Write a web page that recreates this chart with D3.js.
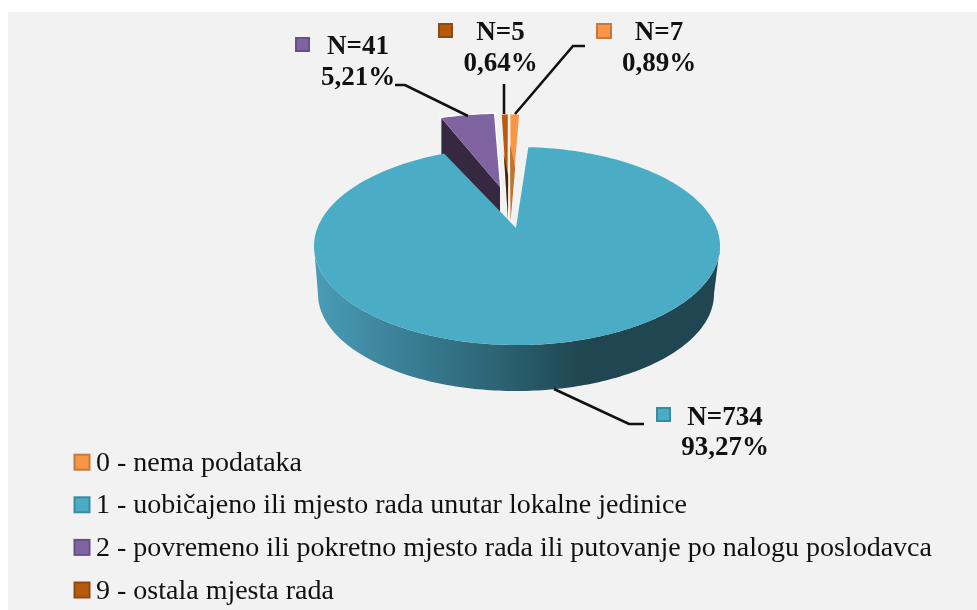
<!DOCTYPE html>
<html><head><meta charset="utf-8">
<script src="https://cdnjs.cloudflare.com/ajax/libs/d3/7.8.5/d3.min.js"></script>
<style>html,body{margin:0;padding:0;background:#fff}svg{display:block;filter:blur(0.45px)}text{font-family:"Liberation Serif",serif;fill:#111}</style>
</head><body><div id="c"></div>
<script>
const categories = ["0 - nema podataka","1 - uobičajeno ili mjesto rada unutar lokalne jedinice","2 - povremeno ili pokretno mjesto rada ili putovanje po nalogu poslodavca","9 - ostala mjesta rada"];
const counts = [7,734,41,5];
const percents = ["0,89%","93,27%","5,21%","0,64%"];
const colors = ["#f79646","#4bacc6","#8064a2","#b85a0e"];
const borders = ["#c47a3d","#3a8aa0","#65508a","#8f4a10"];
const sideColors = ["#bd7434","#1f4651","#352840","#4a2506"];

const W=977,H=610;
const svg=d3.select("#c").append("svg").attr("width",W).attr("height",H);
svg.append("rect").attr("x",8).attr("y",12).attr("width",W-8).attr("height",H-12).attr("fill","#f2f2f2");
const defs=svg.append("defs");
const g=defs.append("linearGradient").attr("id","side").attr("gradientUnits","userSpaceOnUse").attr("x1",314).attr("x2",720).attr("y1",0).attr("y2",0);
[[0,"#4a9cb6"],[0.2,"#3b8299"],[0.45,"#2c6473"],[0.66,"#1f4651"],[1,"#1f4651"]].forEach(s=>g.append("stop").attr("offset",s[0]).attr("stop-color",s[1]));

const arcs=d3.pie().sort(null).value(d=>d)(counts);
// slice geometry: rim ellipse centre, radii, apex
const geom=[
 {cx:509.8,cy:174,rx:178,ry:60,ax:510.5,ay:222},
 {cx:517,cy:246,rx:203,ry:99,ax:516,ay:228},
 {cx:500.6,cy:174,rx:165,ry:60,ax:500,ay:187},
 {cx:508.3,cy:174,rx:178,ry:60,ax:508,ay:220}
];
const rim=(q,a)=>[q.cx+q.rx*Math.sin(a),q.cy-q.ry*Math.cos(a)];
const lerp=(p,r,t)=>[p[0]+(r[0]-p[0])*t,p[1]+(r[1]-p[1])*t];
function face(i){
  const q=geom[i],d=arcs[i],n=Math.max(4,Math.ceil((d.endAngle-d.startAngle)*40));
  const pts=d3.range(n+1).map(k=>rim(q,d.startAngle+(d.endAngle-d.startAngle)*k/n));
  return d3.line()([[q.ax,q.ay],...pts])+"Z";
}
function cut(i,angle,depth){
  const q=geom[i],r=rim(q,angle);
  return d3.line()([[q.ax,q.ay],r,[r[0],r[1]+depth],[q.ax,q.ay+depth]])+"Z";
}
// exploded purple slice (behind the large one)
svg.append("path").attr("d",face(2)).attr("fill","none").attr("stroke","#fff").attr("stroke-width",3);
svg.append("path").attr("d",cut(2,arcs[2].startAngle,36)).attr("fill",sideColors[2]);
svg.append("path").attr("d",face(2)).attr("fill",colors[2]);
// the two thin slices: silhouette with a shaded cut inside
[3,0].forEach(i=>{
  const q=geom[i],a=[q.ax,q.ay],s=rim(q,arcs[i].startAngle),e=rim(q,arcs[i].endAngle);
  svg.append("path").attr("d",face(i)).attr("fill",colors[i]).attr("stroke","#fff").attr("stroke-opacity",0.75).attr("stroke-width",1.2);
  const inner=i===3?[a,lerp(a,e,0.42),lerp(a,s,0.62)]:[a,lerp(a,e,0.5),lerp(a,s,0.72)];
  svg.append("path").attr("d",d3.line()(inner)+"Z").attr("fill",sideColors[i]);
});
// large slice: extruded wall then top face
(function(){
  const i=1,q=geom[i],lo={cx:516,cy:294,rx:198,ry:97};
  const A=d3.range(Math.PI/2,Math.PI*1.5+0.001,0.02);
  const top=A.map(a=>rim(q,a)),bot=A.map(a=>rim(lo,a)).reverse();
  svg.append("path").attr("d",d3.line()([...top,...bot])+"Z").attr("fill","url(#side)");
  svg.append("path").attr("d",face(i)).attr("fill",colors[i]);
})();

// leader lines
const leaders=[
 [[585,46],[573,46],[515,114]],
 [[554,389],[629,424],[644,424]],
 [[395,85],[405,85],[468,116]],
 [[504,84],[504,114]]
];
leaders.forEach(l=>svg.append("path").attr("d",d3.line()(l)).attr("fill","none").attr("stroke","#111").attr("stroke-width",2.6));

// data labels
const labels=[
 {mx:596,my:23,s:16,tx:659,ty1:40,ty2:70.5},
 {mx:656,my:407,s:15,tx:725,ty1:424.5,ty2:455},
 {mx:295,my:37,s:15,tx:358,ty1:54,ty2:84.5},
 {mx:438,my:23,s:15,tx:500.5,ty1:40,ty2:70.5}
];
labels.forEach((l,i)=>{
  svg.append("rect").attr("x",l.mx+1).attr("y",l.my+1).attr("width",l.s-2).attr("height",l.s-2).attr("fill",colors[i]).attr("stroke",borders[i]).attr("stroke-width",2);
  svg.append("text").attr("x",l.tx).attr("y",l.ty1).attr("text-anchor","middle").attr("font-size",27).attr("font-weight","bold").text("N="+counts[i]);
  svg.append("text").attr("x",l.tx).attr("y",l.ty2).attr("text-anchor","middle").attr("font-size",27).attr("font-weight","bold").text(percents[i]);
});

// legend
const ly=d3.scalePoint().domain(categories).range([462.2,590]);
categories.forEach((c,i)=>{
  svg.append("rect").attr("x",74.5).attr("y",ly(c)-7.5).attr("width",15).attr("height",15).attr("fill",colors[i]).attr("stroke",borders[i]).attr("stroke-width",2);
  svg.append("text").attr("x",96).attr("y",ly(c)+8.5).attr("font-size",28).text(c);
});
</script></body></html>
